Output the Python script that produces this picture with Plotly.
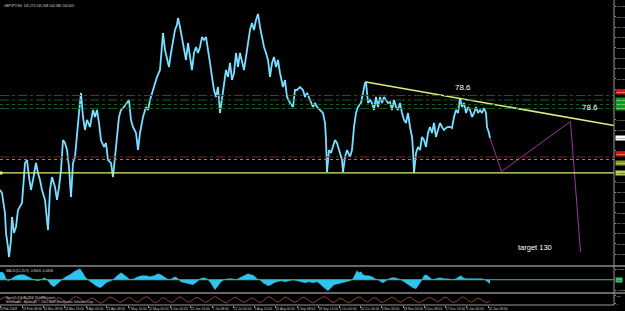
import plotly.graph_objects as go

# ---------------- data ----------------
# time index (1 unit ~ 4 H4 bars) and price path GBPJPY H4
t = [0,2,5,6,8,9,11,12,14,16,18,20,22,25,27,29,31,33,36,38,40,42,45,47,48,50,52,55,57,59,61,63,65,67,69,71,73,75,77,79,81,83,85,87,90,93,95,97,99,101,104,106,108,111,113,115,117,119,121,124,127,129,131,133,136,138,140,143,146,148,150,153,157,160,162,163,165,167,169,171,173,175,177,178,180,182,184,186,188,190,192,194,196,198,200,202,204,206,208,210,212,214,216,218,220,222,224,226,228,230,232,234,236,238,240,242,244,246,248,250,252,254,256,258,260,262,264,266,268,270,272,274,276,278,280,283,285,287,290,293,295,297,300,303,305,307,310,313,315,317,320,323,325,326,327,329,331,333,335,337,340,342,343,345,347,350,352,354,356,358,361,363,365,366,368,370,372,374,376,378,380,382,384,386,388,390,392,394,396,398,400,402,404,406,408,410,412,413,414,416,418,420,422,424,426,428,430,432,434,436,438,440,442,444,446,448,450,452,454,456,458,460,462,464,466,468,470,472,474,476,478,480,482,484,486,487,489,490]
price = [138.98,138.56,135.80,133.04,131.10,129.72,132.07,135.25,133.04,133.87,136.22,136.63,137.18,142.71,143.12,140.77,138.98,140.36,142.71,141.33,140.36,138.98,137.60,134.83,133.45,138.98,140.77,139.39,137.60,139.39,141.74,145.88,145.47,144.50,142.15,138.01,142.71,143.54,147.27,149.61,152.38,149.06,147.27,148.65,147.68,150.03,149.06,150.03,148.23,145.88,144.92,145.47,143.12,142.71,140.77,143.12,146.30,149.06,150.03,150.44,150.99,151.41,148.65,147.68,146.85,144.50,146.85,149.06,150.44,150.03,151.41,152.79,154.59,155.55,159.28,160.66,158.31,156.93,155.97,157.90,159.70,161.08,161.77,162.73,161.49,160.11,158.31,156.93,159.28,157.35,155.55,157.90,158.73,157.90,158.73,160.11,159.70,160.11,157.90,156.52,154.59,152.79,151.82,153.20,149.61,151.41,153.76,155.55,154.59,156.52,154.17,155.14,157.90,155.97,157.90,156.52,155.55,157.35,159.28,161.08,162.04,161.08,162.46,163.29,161.49,160.11,158.73,157.90,156.93,154.59,156.52,157.35,155.97,156.93,155.14,153.20,154.17,151.82,150.99,150.44,152.79,152.79,153.20,152.79,151.82,152.38,151.41,150.44,150.99,150.44,150.03,149.61,148.23,145.88,141.46,144.50,144.09,144.92,145.88,145.47,144.23,143.12,141.46,143.54,144.50,143.54,144.50,147.68,149.61,150.44,150.99,152.38,153.76,153.90,150.99,151.41,150.99,150.03,151.82,150.44,151.82,150.99,151.82,151.41,150.99,151.13,150.03,151.41,150.44,150.03,150.99,149.61,148.65,148.23,149.61,147.68,146.30,144.50,141.33,144.09,144.92,144.50,146.30,145.88,144.92,146.85,147.68,146.85,148.23,146.30,147.27,148.23,147.68,147.27,147.54,147.68,147.68,147.54,149.06,150.03,149.61,151.68,150.44,150.99,149.61,150.44,150.03,149.06,149.61,150.44,149.61,150.03,149.61,150.30,149.61,147.68,146.85,146.16]

macd_t = [0,2,4,6,8,10,13,16,20,24,28,31,34,38,42,45,48,51,54,57,60,63,66,70,74,78,80,82,85,88,92,96,100,103,106,110,113,116,119,121,124,127,130,134,138,142,146,150,154,158,161,164,167,170,173,175,178,181,185,189,193,197,200,204,207,210,213,215,218,221,224,228,232,236,240,244,248,251,254,257,260,263,266,268,271,274,277,281,285,289,293,297,301,305,309,313,317,320,323,326,328,331,334,338,342,346,350,353,355,357,359,361,363,366,369,372,375,378,381,383,386,389,392,395,398,401,404,407,410,413,416,419,422,424,426,429,432,436,440,444,448,452,456,459,461,463,466,470,474,478,482,485,487,489,490]
macd = [0.98,1.12,0.84,0.14,-0.14,0.0,0.28,0.56,0.70,0.70,0.42,0.14,0.0,-0.14,0.14,0.28,-0.14,-0.70,-0.98,-0.56,-0.14,0.14,0.42,0.70,1.12,1.40,1.54,1.12,0.42,0.0,-0.42,-0.84,-1.12,-0.84,-0.42,-0.14,0.0,0.42,0.84,0.98,0.70,0.28,0.0,0.14,0.42,0.56,0.56,0.42,0.56,0.84,0.70,0.42,0.14,0.0,0.28,0.42,0.14,-0.28,-0.42,-0.56,-0.70,-0.28,0.14,0.28,0.14,-0.28,-0.98,-1.40,-0.84,-0.28,0.0,0.14,0.14,0.0,0.28,0.56,0.84,0.70,0.56,0.14,0.0,-0.42,-0.70,-0.84,-0.70,-0.42,-0.28,-0.14,-0.28,-0.14,0.0,-0.14,-0.28,-0.42,-0.28,-0.42,-0.28,-0.56,-0.98,-1.40,-1.54,-1.12,-0.70,-0.56,-0.42,-0.28,-0.14,0.14,0.84,1.26,0.98,1.12,0.70,0.56,0.56,0.42,0.14,0.0,-0.28,-0.42,-0.14,0.14,0.28,0.28,0.14,0.0,-0.28,-0.56,-0.84,-1.12,-1.26,-0.70,0.0,0.56,0.70,0.42,0.0,0.14,0.28,0.14,0.14,0.0,0.14,0.42,0.56,0.28,0.14,0.14,0.14,0.14,0.14,0.0,-0.28,-0.56,-0.56]

stoch = [55,78,88,62,30,18,35,70,85,60,25,12,40,75,90,72,38,20,45,80,65,28,15,50,82,92,70,35,22,48,76,58,24,10,32,68,86,74,40,18,30,62,84,66,34,20,52,80,90,64,26,14,44,78,70,36,16,38,72,88,60,28,22,56,82,74,42,18,34,66,90,78,46,24,12,40,70,84,58,30,20,48,76,62,32,16,42,80,88,66,36,24,54,86,72,40,20,30,64,84,70,38,14,28,60,82,90,68,34,18,44,74,56,26,12,36,70,88,76,42,22,50,80,66,30,16,40,72,86,64,32,20,46,78,84,58,28,14,38,68,82,70,44,24,52,84,76,40,18,30,62,88,72,36,20,46,74,60,30,15,35]

trend_t = [366, 614]
trend_p = [153.90, 147.89]
proj_t = [490, 501.5, 570.5, 580.5]
proj_p = [146.16, 141.53, 148.44, 130.41]

levels_red = [152.03, 143.54]
levels_green = [151.41, 150.79, 150.24]
level_dotted = [143.19]
level_support = 141.33
last_price = 146.16

price_ticks = [130.125,131.550,132.975,134.400,135.825,137.250,138.675,140.100,144.375,147.225,148.650,152.925,154.350,155.775,157.200,158.625,160.050,161.475,162.900,164.325]
time_t = [0,22,43,64,86,106,128,148,170,190,212,233,254,275,297,318,339,360,381,403,424,445,466,488]
time_labels = ["4 Feb 2009","23 Feb 08:00","10 Mar 08:00","24 Mar 16:00","8 Apr 00:00","23 Apr 08:00","7 May 16:00","22 May 00:00","8 Jun 00:00","22 Jun 16:00","7 Jul 08:00","22 Jul 00:00","5 Aug 16:00","20 Aug 00:00","4 Sep 08:00","18 Sep 16:00","5 Oct 00:00","20 Oct 00:00","3 Nov 16:00","18 Nov 00:00","3 Dec 08:00","17 Dec 16:00","5 Jan 00:00","20 Jan 08:00"]
macd_ticks = [1.5152, -1.5152]
macd_labels = ["1.5152", "-1.5152"]

FONT = "Liberation Sans"
n = len(stoch)
stoch_t = [i * 490 / (n - 1) for i in range(n)]

fig = go.Figure()

# main price path (cyan with a thin white core, like the bar chart)
fig.add_trace(go.Scatter(x=t, y=price, mode="lines", line=dict(color="#4cc8f4", width=1.9),
                         xaxis="x", yaxis="y", hoverinfo="skip"))
fig.add_trace(go.Scatter(x=t, y=price, mode="lines", line=dict(color="rgba(235,250,255,0.75)", width=0.6),
                         xaxis="x", yaxis="y", hoverinfo="skip"))
# trend line
fig.add_trace(go.Scatter(x=trend_t, y=trend_p, mode="lines", line=dict(color="#d8f07c", width=1.5),
                         xaxis="x", yaxis="y", hoverinfo="skip"))
# projection
fig.add_trace(go.Scatter(x=proj_t, y=proj_p, mode="lines", line=dict(color="#a332a8", width=1),
                         xaxis="x", yaxis="y", hoverinfo="skip"))
# support marker at left
fig.add_trace(go.Scatter(x=[1], y=[level_support], mode="markers",
                         marker=dict(symbol="square", size=3, color="#d8f07c"),
                         xaxis="x", yaxis="y", hoverinfo="skip"))

# MACD histogram
fig.add_trace(go.Scatter(x=macd_t, y=macd, mode="lines", fill="tozeroy",
                         line=dict(color="#2ec4f2", width=0.5), fillcolor="#2ec4f2",
                         xaxis="x2", yaxis="y2", hoverinfo="skip"))
# Stochastic
fig.add_trace(go.Scatter(x=stoch_t, y=stoch, mode="lines", line=dict(color="#b8503c", width=0.8),
                         xaxis="x3", yaxis="y3", hoverinfo="skip"))

shapes = []
for lv in levels_red:
    shapes.append(dict(type="line", xref="paper", yref="y", x0=0, x1=1, y0=lv, y1=lv,
                       line=dict(color="#8e1c1c", width=1, dash="dashdot")))
for i, lv in enumerate(levels_green):
    shapes.append(dict(type="line", xref="paper", yref="y", x0=0, x1=1, y0=lv, y1=lv,
                       line=dict(color="#1b6a26", width=0.9, dash="dashdot" if i != 1 else "dot")))
for lv in level_dotted:
    shapes.append(dict(type="line", xref="paper", yref="y", x0=0, x1=1, y0=lv, y1=lv,
                       line=dict(color="#8a8a60", width=1, dash="dot")))
shapes.append(dict(type="line", xref="paper", yref="y", x0=0, x1=1, y0=level_support, y1=level_support,
                   line=dict(color="#d8f07c", width=1.3)))
shapes.append(dict(type="line", xref="paper", yref="y2", x0=0, x1=1, y0=0, y1=0,
                   line=dict(color="#3fbf7f", width=1)))
# panel separators & border
for yy in [0.1283, 0.0395]:
    shapes.append(dict(type="line", xref="paper", yref="paper", x0=0, x1=1.018, y0=yy, y1=yy,
                       line=dict(color="#8a8a8a", width=1.5)))
shapes.append(dict(type="line", xref="paper", yref="paper", x0=1, x1=1, y0=0, y1=1.003,
                   line=dict(color="#9a9a9a", width=1)))
shapes.append(dict(type="line", xref="paper", yref="paper", x0=0, x1=1, y0=0, y1=0,
                   line=dict(color="#9a9a9a", width=1)))

annotations = []
def lab(y, yref, text, bg, fg, yanchor="middle"):
    annotations.append(dict(xref="paper", x=1.0015, xanchor="left", yref=yref, y=y, yanchor=yanchor,
                            text=text, showarrow=False, bgcolor=bg, borderpad=0.5,
                            font=dict(family=FONT, size=2.4, color=fg)))
lab(levels_red[0], "y", f"{levels_red[0]:.3f}", "#e01010", "white", "bottom")
for lv in levels_green:
    lab(lv, "y", f"{lv:.3f}", "#109a20", "white")
lab(levels_red[1], "y", f"{levels_red[1]:.3f}", "#e01010", "white", "bottom")
lab(level_dotted[0], "y", f"{level_dotted[0]:.3f}", "#8a9a20", "white", "top")
lab(level_support, "y", f"{level_support:.3f}", "#b8d060", "black")
lab(last_price, "y", f"{last_price:.3f}", "#ffffff", "black")
lab(0, "y2", "0.00", "#3fbf7f", "black")

annotations += [
    dict(xref="x", yref="y", x=463, y=153.07, text="78.6", showarrow=False,
         font=dict(family=FONT, size=8, color="white")),
    dict(xref="x", yref="y", x=590, y=150.44, text="78.6", showarrow=False,
         font=dict(family=FONT, size=8, color="white")),
    dict(xref="x", yref="y", x=535, y=131.10, text="target 130", showarrow=False,
         font=dict(family=FONT, size=7.5, color="white")),
    dict(xref="paper", yref="paper", x=0.004, y=0.998, xanchor="left", yanchor="top",
         text="GBPJPY,H4  145.270 145.368 144.586 144.605", showarrow=False,
         font=dict(family=FONT, size=3.3, color="#d0d0d0")),
    dict(xref="paper", yref="paper", x=0.006, y=0.125, xanchor="left", yanchor="top",
         text="MACD(12,26,9) -0.8006 -0.4458", showarrow=False,
         font=dict(family=FONT, size=3.3, color="#d0d0d0")),
    dict(xref="paper", yref="paper", x=0.006, y=0.036, xanchor="left", yanchor="top",
         text="Stoch(5,3,3) 36.2806 39.1409 Levels<br>MetaTrader - Alpari UK, © 2001-2009 MetaQuotes Software Corp.",
         showarrow=False, align="left",
         font=dict(family=FONT, size=3, color="#d0d0d0")),
]

axis_common = dict(showgrid=False, zeroline=False, showline=False, automargin=False)
tf = dict(family=FONT, size=3.3, color="#c8c8c8")
tfy = dict(family=FONT, size=2.5, color="#c8c8c8")
fig.update_layout(
    width=625, height=311,
    margin=dict(l=0, r=11, t=1, b=6, autoexpand=False),
    paper_bgcolor="black", plot_bgcolor="black",
    showlegend=False,
    font=dict(family=FONT, color="#c8c8c8", size=3.3),
    xaxis=dict(domain=[0, 1], range=[0, 614], anchor="y", showticklabels=False, **axis_common),
    yaxis=dict(domain=[0.1316, 1], range=[128.62, 165.08], side="right", anchor="x",
               tickvals=price_ticks, ticktext=[f"{v:.3f}" for v in price_ticks],
               ticks="outside", ticklen=1, tickcolor="#9a9a9a", tickfont=tfy, **axis_common),
    xaxis2=dict(domain=[0, 1], matches="x", anchor="y2", showticklabels=False, **axis_common),
    yaxis2=dict(domain=[0.0428, 0.125], range=[-1.73, 1.80], side="right", anchor="x2",
                tickvals=macd_ticks, ticktext=macd_labels, ticks="outside", ticklen=1, tickcolor="#9a9a9a",
                tickfont=tfy, **axis_common),
    xaxis3=dict(domain=[0, 1], matches="x", anchor="y3", tickvals=time_t, ticktext=time_labels,
                tickangle=0, ticks="outside", ticklen=2, tickcolor="#9a9a9a", ticklabelposition="outside right",
                tickfont=tf, **axis_common),
    yaxis3=dict(domain=[0, 0.0362], range=[-15, 125], side="right", anchor="x3",
                tickvals=[0, 100], ticktext=["0", "100"], ticks="outside", ticklen=1, tickcolor="#9a9a9a",
                tickfont=tfy, **axis_common),
    shapes=shapes,
    annotations=annotations,
)

fig.write_html("out.html")
